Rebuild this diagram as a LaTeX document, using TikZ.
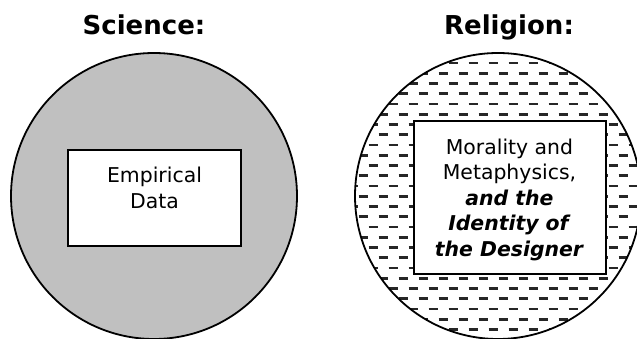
\documentclass[tikz,border=0pt]{standalone}
\usepackage{fontspec}
\setmainfont{DejaVu Sans}
\begin{document}
\begin{tikzpicture}[x=0.75pt,y=-0.75pt,
  title/.style={font=\fontsize{19.5}{24}\selectfont\bfseries, anchor=base, inner sep=0pt},
  txt/.style={font=\fontsize{15.3}{19.1}\selectfont, align=center, anchor=base, inner sep=0pt},
  bigcirc/.style={circle, draw=black, line width=1.35pt, minimum size=214.5pt, inner sep=0pt},
  boxnode/.style={draw=black, fill=white, line width=1.5pt, inner sep=0pt},
  dashline/.style={draw=black!85, line width=2.1pt}]
\clip (0,0) rectangle (637,339);
\fill[white] (0,0) rectangle (637,339);
% Science
\node[title] (stitle) at (144,34) {Science:};
\node[bigcirc, fill={rgb,255:red,192;green,192;blue,192}] (scirc) at (154,196) {};
\node[boxnode, minimum width=129.75pt, minimum height=72pt] (sbox) at (154.5,198) {};
\node[txt] (stext) at (154.5,208) {Empirical\\Data};
% Religion
\node[title] (rtitle) at (509,34) {Religion:};
\coordinate (rc) at (498,196);
\begin{scope}
  \clip (rc) circle[radius=143];
  \foreach \k in {0,...,27} {
    \pgfmathsetmacro\yy{63+10.25*\k}
    \pgfmathsetmacro\off{mod(\k,2)==0 ? 13 : 3}
    \foreach \j in {0,...,15} {
      \draw[dashline] ({340+\off+20*\j-4.5},\yy) -- ++(9,0);
    }
  }
\end{scope}
\node[bigcirc] (rcirc) at (rc) {};
\node[boxnode, minimum width=144pt, minimum height=114.75pt] (rbox) at (510,197.5) {};
\node[txt] (rtext) at (509.5,256) {Morality and\\Metaphysics,\\\textbf{\textit{and the}}\\\textbf{\textit{Identity of}}\\\textbf{\textit{the Designer}}};
\end{tikzpicture}
\end{document}
